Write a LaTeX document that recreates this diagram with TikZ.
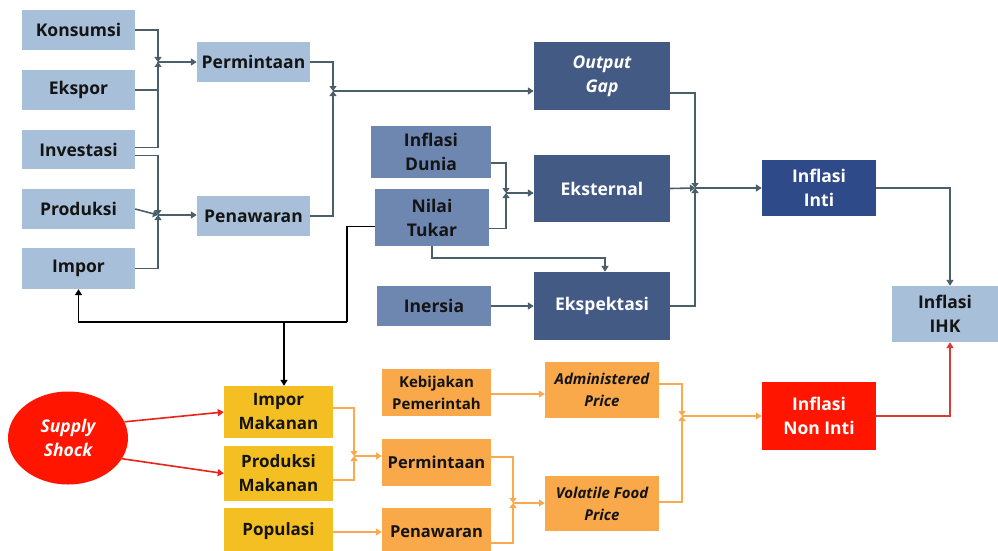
\documentclass[tikz,border=0pt]{standalone}
\usepackage{fontspec}
\setmainfont{Open Sans}
\usetikzlibrary{arrows.meta,shapes.geometric,calc}
\definecolor{clb}{HTML}{A7BFD8}
\definecolor{cmb}{HTML}{6E87B1}
\definecolor{cdb}{HTML}{435A85}
\definecolor{cinti}{HTML}{2F4A88}
\definecolor{cyel}{HTML}{F4BF22}
\definecolor{corg}{HTML}{F9A84A}
\definecolor{cred}{HTML}{FF1500}
\definecolor{cline}{HTML}{4B5F6B}
\definecolor{coline}{HTML}{F9AA4E}
\definecolor{crline}{HTML}{E8231A}
\definecolor{cihk}{HTML}{D93A3A}
\begin{document}
\begin{tikzpicture}[x=1pt,y=-1pt,
  wh/.style n args={2}{minimum width=#1pt,minimum height=#2pt},
  box/.style={rectangle,inner sep=0pt,align=center,font=\fontsize{17.5}{24}\selectfont\bfseries,text=black!92},
  lbbox/.style={box,fill=clb},
  mbbox/.style={box,fill=cmb},
  dbbox/.style={box,fill=cdb,text=white},
  ybox/.style={box,fill=cyel,font=\fontsize{17}{24}\selectfont\bfseries},
  obox/.style={box,fill=corg,font=\fontsize{15}{22}\selectfont\bfseries},
  obig/.style={obox,font=\fontsize{16.5}{22}\selectfont\bfseries},
  conn/.style={draw=cline,line width=1.6pt},
  oconn/.style={draw=coline,line width=1.6pt},
  rconn/.style={draw=crline,line width=1.6pt},
  bconn/.style={draw=black,line width=1.6pt},
  arr/.style={-{Triangle[width=7pt,length=6pt]}},
  jt/.style={-{Triangle[width=7pt,length=5pt]}}
]
\clip (0,0) rectangle (998,551);
\fill[white] (0,0) rectangle (998,551);
% left column
\node[lbbox,wh={113}{40}] (kons) at (78.5,30) {Konsumsi};
\node[lbbox,wh={113}{40}] (eksp) at (78.5,90) {Ekspor};
\node[lbbox,wh={113}{39}] (inv) at (78.5,149.5) {Investasi};
\node[lbbox,wh={113}{40}] (prod) at (78.5,209) {Produksi};
\node[lbbox,wh={113}{41}] (impor) at (78.5,268.5) {Impor};
\node[lbbox,wh={113}{40}] (perm) at (253.5,62) {Permintaan};
\node[lbbox,wh={113}{40}] (pen) at (253.5,216) {Penawaran};
% middle
\node[dbbox,wh={136}{68}] (og) at (602,76) {\itshape Output\\\itshape Gap};
\node[mbbox,wh={120}{52}] (idun) at (431,152) {Inflasi\\Dunia};
\node[mbbox,wh={114}{57}] (nt) at (432,217.5) {Nilai\\Tukar};
\node[dbbox,wh={136}{67}] (eks) at (602,188.5) {Eksternal};
\node[dbbox,wh={136}{68}] (ekp) at (602,306) {Ekspektasi};
\node[mbbox,wh={114}{40}] (iner) at (434,306) {Inersia};
\node[box,fill=cinti,text=white,wh={114}{56}] (inti) at (819,188) {Inflasi\\Inti};
\node[lbbox,wh={106}{56}] (ihk) at (945,314) {Inflasi\\IHK};
% bottom
\node[ellipse,fill=cred,inner sep=0pt,wh={120}{93},align=center,text=white,font=\fontsize{17.5}{24}\selectfont\bfseries\itshape] (ss) at (68,438) {Supply\\Shock};
\node[ybox,wh={109}{52}] (imak) at (278.5,412) {Impor\\Makanan};
\node[ybox,wh={109}{55}] (pmak) at (278.5,473.5) {Produksi\\Makanan};
\node[ybox,wh={109}{46}] (pop) at (278.5,531) {Populasi};
\node[obox,wh={109}{47}] (keb) at (436.5,392.5) {Kebijakan\\Pemerintah};
\node[obig,wh={109}{47}] (operm) at (436.5,462.5) {Permintaan};
\node[obig,wh={109}{47}] (open) at (436.5,531.5) {Penawaran};
\node[obox,wh={114}{56}] (adm) at (602,390) {\itshape Administered\\\itshape Price};
\node[obox,wh={114}{55}] (vol) at (602,503.5) {\itshape Volatile Food\\\itshape Price};
\node[box,fill=cred,text=white,wh={114}{68}] (nonint) at (819,416) {Inflasi\\Non Inti};
% junction coordinates
\coordinate (J1) at (158,62);
\coordinate (J2) at (158,215);
\coordinate (J3) at (333,91);
\coordinate (J4) at (506,193);
\coordinate (J5) at (695,188);
\coordinate (J6) at (354,456);
\coordinate (J7) at (513,503);
\coordinate (J8) at (682,416);
\coordinate (B1) at (347,322);
\coordinate (B2) at (284,322);
% top-left connectors
\draw[conn,jt] (kons.east) -| (J1);
\draw[conn] (eksp.east) -| (J1);
\draw[conn,jt] ($(inv.east)+(0,-2)$) -| (J1);
\draw[conn,jt] ($(inv.east)+(0,6)$) -| (J2);
\draw[conn,jt] (prod.east) -- (J2);
\draw[conn,jt] (impor.east) -| (J2);
\draw[conn,arr] (J1) -- (J1 -| perm.west);
\draw[conn,arr] (J2) -- (J2 -| pen.west);
\draw[conn,jt] (perm.east) -| (J3);
\draw[conn,jt] (pen.east) -| (J3);
\draw[conn,arr] (J3) -- (J3 -| og.west);
% middle connectors
\draw[conn,jt] ($(idun.east)+(0,11)$) -| (J4);
\draw[conn,jt] ($(nt.east)+(0,11)$) -| (J4);
\draw[conn,arr] (J4) -- (J4 -| eks.west);
\draw[conn,arr] (nt.south) -- ++(0,12) -| ($(ekp.north)+(3,0)$);
\draw[conn,arr] (iner.east) -- (iner.east -| ekp.west);
\draw[conn,jt] ($(og.east)+(0,17)$) -| (J5);
\draw[conn,jt] (eks.east) -- (J5);
\draw[conn,jt] (ekp.east) -| (J5);
\draw[conn,arr] (J5) -- (inti.west);
\draw[conn,arr] (inti.east) -| ($(ihk.north)+(5,0)$);
% black connectors
\draw[bconn] ($(nt.west)+(0,9)$) -| (B1);
\draw[bconn,arr] (B1) -| (impor.south);
\draw[bconn,arr] (B2) -- (B2 |- imak.north);
% red
\draw[rconn,arr] (ss.16) -- (imak.west);
\draw[rconn,arr] (ss.-21) -- (pmak.west);
% orange
\draw[oconn,jt] ($(imak.east)+(0,-4)$) -| (J6);
\draw[oconn,jt] ($(pmak.east)+(0,6.5)$) -| (J6);
\draw[oconn,arr] (J6) -- (J6 -| operm.west);
\draw[oconn,arr] ($(pop.east)+(0,1)$) -- ($(open.west)+(0,0.5)$);
\draw[oconn,arr] ($(keb.east)+(0,1.5)$) -- ($(adm.west)+(0,4)$);
\draw[oconn,jt] ($(operm.east)+(0,-5.5)$) -| (J7);
\draw[oconn,jt] ($(open.east)+(0,11.5)$) -| (J7);
\draw[oconn,arr] (J7) -- (J7 -| vol.west);
\draw[oconn,jt] ($(adm.east)+(0,-6)$) -| (J8);
\draw[oconn,jt] ($(vol.east)+(0,-1.5)$) -| (J8);
\draw[oconn,arr] (J8) -- (nonint.west);
\draw[draw=cihk,line width=1.6pt,arr] (nonint.east) -| ($(ihk.south)+(5,0)$);
\end{tikzpicture}
\end{document}
